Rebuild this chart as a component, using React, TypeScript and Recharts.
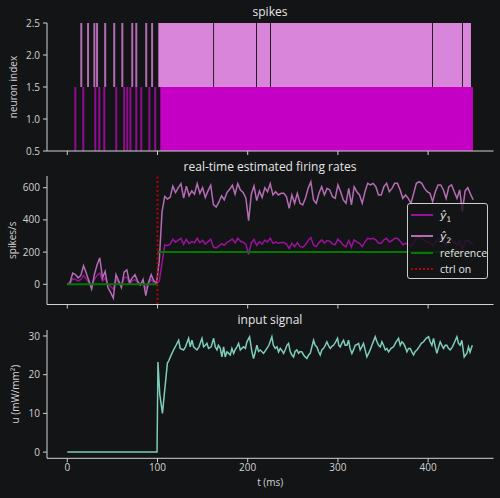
import React from 'react';
import {
  ComposedChart,
  Line,
  Scatter,
  ErrorBar,
  XAxis,
  YAxis,
  ReferenceArea,
  ReferenceLine,
} from 'recharts';

const BG = '#131416';
const AXIS = '#d2d2d2';
const FONT = "'Open Sans', 'Noto Sans', sans-serif";

const X_DOMAIN = [-22.5, 472.5];
const X_TICKS = [0, 100, 200, 300, 400];
const CTRL_ON_T = 100;

// spikes panel
const spikeTimes1 = [8.9, 17.7, 31, 35.5, 41, 54.3, 63, 66.5, 70, 76.5, 82, 91, 97.5];
const spikeTimes2 = [15.5, 23, 30, 33, 42, 52, 61, 72, 76.5, 87.5, 94];
// dense firing after the controller switches on (start, end) in ms
const burst1 = [[103.1, 449.7]];
const burst2 = [
  [100.9, 161.7],
  [162.7, 209.3],
  [210.3, 224.8],
  [225.8, 404.4],
  [405.4, 437.7],
  [438.7, 447.5],
];

// firing-rate panel
const rateT = [
  0, 3, 6, 9, 12, 15, 18, 21, 24, 27, 30, 33, 36, 39, 42, 45, 48, 51, 54, 57, 60, 63, 66, 69, 72, 75, 78, 81, 84, 87, 90, 93, 96, 99,
  102, 105, 108, 111, 114, 117, 120, 123, 126, 129, 132, 135, 138, 141, 144, 147, 150, 153, 156, 159, 162, 165, 168, 171, 174, 177,
  180, 183, 186, 189, 192, 195, 198, 201, 204, 207, 210, 213, 216, 219, 222, 225, 228, 231, 234, 237, 240, 243, 246, 249, 252, 255,
  258, 261, 264, 267, 270, 273, 276, 279, 282, 285, 288, 291, 294, 297, 300, 303, 306, 309, 312, 315, 318, 321, 324, 327, 330, 333,
  336, 339, 342, 345, 348, 351, 354, 357, 360, 363, 366, 369, 372, 375, 378, 381, 384, 387, 390, 393, 396, 399, 402, 405, 408, 411,
  414, 417, 420, 423, 426, 429, 432, 435, 438, 441, 444, 447, 450,
];
const rateY1 = [
  0, 5, 35, 30, 20, 30, 55, 35, 10, -10, 30, 55, 70, 20, 40, 0, -15, -30, 30, 10, -5, 40, 45, 5, 20, 30, 10, 0, 15, -25, 5, 30, 10, 5,
  20, 130, 245, 240, 249, 279, 261, 274, 285, 247, 280, 253, 265, 258, 286, 259, 273, 249, 265, 280, 231, 226, 237, 253, 243, 261,
  270, 281, 257, 286, 267, 261, 247, 185, 257, 278, 241, 265, 249, 274, 263, 286, 255, 263, 255, 259, 259, 250, 223, 255, 234, 259,
  234, 230, 246, 272, 290, 243, 234, 259, 276, 255, 272, 268, 250, 246, 281, 263, 243, 234, 272, 230, 276, 263, 255, 234, 263, 286,
  281, 286, 276, 255, 255, 276, 286, 263, 272, 286, 286, 268, 246, 255, 246, 234, 259, 286, 290, 286, 272, 263, 259, 238, 263, 281,
  281, 268, 246, 276, 281, 263, 246, 268, 215, 265, 274, 257, 243,
];
const rateY2 = [
  0, 10, 70, 60, 40, 55, 115, 70, 20, -30, 60, 120, 165, 40, 80, -20, -50, -85, 60, 20, -20, 75, 90, 10, 40, 60, 20, -5, 30, -70, 10, 60, 20, 10,
  150, 450, 545, 530, 540, 610, 570, 600, 625, 535, 610, 550, 580, 560, 625, 565, 600, 540, 580, 615, 495, 480, 510, 550, 525, 570,
  590, 615, 560, 625, 585, 570, 535, 395, 560, 610, 520, 580, 540, 600, 575, 625, 555, 575, 555, 565, 565, 544, 472, 555, 503, 565,
  503, 493, 534, 596, 637, 524, 503, 565, 606, 555, 596, 586, 544, 534, 617, 575, 524, 503, 596, 493, 606, 575, 555, 503, 575, 627,
  617, 627, 606, 555, 555, 606, 627, 575, 596, 627, 627, 586, 534, 555, 534, 503, 565, 627, 637, 627, 596, 575, 565, 513, 575, 617,
  617, 586, 534, 606, 617, 575, 534, 586, 451, 580, 600, 560, 525,
];
// reference target, broken (null) where it jumps at ctrl on
const refT = [0, 100, 100, 100, 450];
const refV = [0, 0, null, 200, 200];

// input-signal panel
const inputT = [
  0, 99.5, 100.5, 102.5, 105.5, 108, 111, 112.5, 115, 118, 121, 123.4, 125.2, 128.9, 131, 134.5, 136.3, 138.2, 140, 143.7, 146,
  149.3, 151.1, 153, 154.8, 156.6, 159.5, 162.2, 164, 165.9, 167.5, 169.6, 171.4, 173.3, 175.1, 177, 179, 180.7, 182.5, 184.4, 186,
  188.1, 189.9, 191.8, 193.5, 195.5, 197.5, 199.1, 202.1, 204.7, 206.5, 208.5, 210.2, 212, 213.9, 217.6, 221.3, 223.5, 226.8, 228.5,
  230.5, 232.5, 234.2, 236.1, 238, 239.8, 241.5, 243.5, 245.3, 247.2, 249, 250.9, 252.5, 254.5, 256.4, 258, 260.1, 262, 263.8, 265.6,
  267.5, 269.3, 273, 274.8, 276.7, 278.5, 280.4, 282.2, 284.1, 286, 287.8, 289.5, 291.5, 293.5, 295.2, 297.5, 299.6, 301, 302.6,
  304.5, 306.3, 308, 310, 311.8, 313.5, 315.5, 317.3, 319.2, 321, 322.9, 324.7, 326.5, 328.4, 330.2, 332.1, 334, 335.8, 338.5, 341.4,
  343.3, 345.1, 347, 348.8, 350.6, 352.5, 354.3, 356.2, 359, 361.7, 364.5, 367.2, 369.1, 371, 372.8, 374.6, 376.5, 378.3, 380.2, 382,
  383.9, 385.7, 387.6, 390, 392.5, 395, 397.8, 400.5, 402.3, 404.2, 406, 408, 409.7, 411.5, 413.4, 415.2, 417.1, 419, 420.8, 422.6,
  424.5, 427, 429.5, 431.9, 433.7, 435.6, 437.4, 440, 441.5, 443, 444.8, 446.5, 449,
];
const inputU = [
  0, 0, 23.3, 15, 10, 16, 23, 23.6, 25, 26.5, 27.8, 28.9, 26.8, 26.4, 27.2, 29.4, 27.2, 28.9, 27.2, 26.4, 27.2,
  29.4, 27.2, 27.6, 28.1, 26.8, 27.2, 29.4, 27.2, 26.4, 27.6, 26.8, 24.6, 27.2, 24.6, 25.9, 25.5, 25.1, 26.8, 25.5, 26.4,
  27.2, 28.1, 26.4, 26.8, 27.2, 26.8, 28.5, 29.8, 25.9, 24.2, 26, 27.6, 26, 26.4, 25.5, 26.8, 27.6, 29.8, 27.6,
  26.8, 27.2, 25.9, 26.8, 26.2, 25.5, 26.4, 27.6, 28.1, 25.9, 25.1, 24.6, 26, 26.4, 25.5, 26, 25.9, 25.1, 24.6, 24.2,
  25.1, 25.5, 28.9, 27.6, 27.2, 26, 25.1, 26.4, 26.8, 27.6, 28.5, 27.6, 26.8, 27.4, 27.6, 28.5, 29.4, 27.6, 27.2,
  28.2, 28.9, 27.6, 27.6, 28.9, 26.8, 25.5, 26.4, 27.6, 27.8, 28.1, 26.4, 27.2, 28.1, 26.4, 24.6, 25.5, 26.4, 28.1, 29.8,
  28.5, 27.6, 27.2, 28.5, 27.6, 26.4, 26.8, 25.9, 26.8, 27.2, 28.5, 29.4, 27.6, 28.5, 28.1, 27.2, 25.9, 26.8, 26.8, 25.9,
  25.1, 26, 26.4, 27.2, 28.1, 28.5, 29.4, 29.8, 28.5, 27.6, 29.4, 27.2, 25.5, 27, 28.5, 27.6, 26.8, 27.6, 27.6, 26.8,
  26.4, 27.2, 28.5, 29.8, 28.1, 27.6, 28.9, 24.6, 25.1, 25.5, 27.2, 25.8, 27.6,
];

const COLORS = {
  spike1: '#920c92',
  spike2: '#b26cb2',
  burst1: '#c300c3',
  burst2: '#d985d9',
  y1: '#9c119c',
  y2: '#b46cb4',
  ref: '#007a00',
  ctrl: '#b80000',
  input: '#7ecdbb',
};

const spikeData1 = spikeTimes1.map((t) => ({ t, n: 1, err: 0.5 }));
const spikeData2 = spikeTimes2.map((t) => ({ t, n: 2, err: 0.5 }));
const rateData = rateT.map((t, i) => ({ t, y1: rateY1[i], y2: rateY2[i] }));
const refData = refT.map((t, i) => ({ t, v: refV[i] }));
const inputData = inputT.map((t, i) => ({ t, u: inputU[i] }));

const tickStyle = { fill: AXIS, fontSize: 10 };
const noDot = () => <g />;
const noTickLabel = () => <g />;

function Title({ text, top }: { text: string; top: number }) {
  return (
    <div
      style={{
        position: 'absolute',
        left: 47,
        width: 446,
        top,
        textAlign: 'center',
        color: '#e6e6e6',
        fontSize: 12,
        lineHeight: '14px',
      }}
    >
      {text}
    </div>
  );
}

function LegendRow({ top, color, dotted, children }: any) {
  return (
    <div style={{ position: 'absolute', left: 0, top, height: 16, width: 81 }}>
      <div
        style={{
          position: 'absolute',
          left: 3,
          top: 7,
          width: 22,
          borderTop: `2px ${dotted ? 'dotted' : 'solid'} ${color}`,
        }}
      />
      <div style={{ position: 'absolute', left: 32, top: 0, lineHeight: '16px', fontSize: 10.5, color: '#e6e6e6' }}>
        {children}
      </div>
    </div>
  );
}

function YHat({ i }: { i: number }) {
  return (
    <span style={{ fontFamily: "'DejaVu Sans', sans-serif", fontSize: 11 }}>
      <i>ŷ</i>
      <sub style={{ fontSize: 7.5 }}>{i}</sub>
    </span>
  );
}

export default function App() {
  return (
    <div
      style={{
        position: 'absolute',
        left: 0,
        top: 0,
        width: 500,
        height: 498,
        background: BG,
        fontFamily: FONT,
        overflow: 'hidden',
      }}
    >
      <Title text="spikes" top={5} />
      <Title text="real-time estimated firing rates" top={160} />
      <Title text="input signal" top={313} />

      <div style={{ position: 'absolute', left: 0, top: 0 }}>
        <ComposedChart width={500} height={170} margin={{ top: 23, right: 6.5, bottom: 9, left: 0 }}>
          <XAxis
            type="number"
            dataKey="t"
            domain={X_DOMAIN}
            ticks={X_TICKS}
            allowDataOverflow
            height={10}
            tick={noTickLabel}
            tickSize={4}
            axisLine={{ stroke: AXIS }}
            tickLine={{ stroke: AXIS }}
          />
          <YAxis
            type="number"
            dataKey="n"
            domain={[0.5, 2.5]}
            ticks={[0.5, 1, 1.5, 2, 2.5]}
            allowDataOverflow
            width={47}
            tickSize={4}
            tickMargin={3}
            tick={tickStyle}
            tickFormatter={(v: number) => v.toFixed(1)}
            axisLine={{ stroke: AXIS }}
            tickLine={{ stroke: AXIS }}
            label={{
              value: 'neuron index',
              angle: -90,
              position: 'insideLeft',
              offset: 13.5,
              fill: AXIS,
              fontSize: 10,
              style: { textAnchor: 'middle' },
            }}
          />
          {burst1.map(([a, b], i) => (
            <ReferenceArea key={'b1' + i} x1={a} x2={b} y1={0.5} y2={1.5} fill={COLORS.burst1} fillOpacity={1} stroke="none" />
          ))}
          {burst2.map(([a, b], i) => (
            <ReferenceArea key={'b2' + i} x1={a} x2={b} y1={1.5} y2={2.5} fill={COLORS.burst2} fillOpacity={1} stroke="none" />
          ))}
          <Scatter data={spikeData1} shape={noDot} isAnimationActive={false}>
            <ErrorBar dataKey="err" direction="y" width={0} stroke={COLORS.spike1} strokeWidth={2} isAnimationActive={false} />
          </Scatter>
          <Scatter data={spikeData2} shape={noDot} isAnimationActive={false}>
            <ErrorBar dataKey="err" direction="y" width={0} stroke={COLORS.spike2} strokeWidth={2} isAnimationActive={false} />
          </Scatter>
        </ComposedChart>
      </div>

      <div style={{ position: 'absolute', left: 0, top: 160 }}>
        <ComposedChart width={500} height={165} data={rateData} margin={{ top: 16, right: 6.5, bottom: 10.5, left: 0 }}>
          <XAxis
            type="number"
            dataKey="t"
            domain={X_DOMAIN}
            ticks={X_TICKS}
            allowDataOverflow
            height={10}
            tick={noTickLabel}
            tickSize={4}
            axisLine={{ stroke: AXIS }}
            tickLine={{ stroke: AXIS }}
          />
          <YAxis
            type="number"
            domain={[-125.5, 672.7]}
            ticks={[0, 200, 400, 600]}
            allowDataOverflow
            width={47}
            tickSize={4}
            tickMargin={3}
            tick={tickStyle}
            axisLine={{ stroke: AXIS }}
            tickLine={{ stroke: AXIS }}
            label={{
              value: 'spikes/s',
              angle: -90,
              position: 'insideLeft',
              offset: 12.5,
              fill: AXIS,
              fontSize: 10,
              style: { textAnchor: 'middle' },
            }}
          />
          <Line dataKey="y1" stroke={COLORS.y1} strokeWidth={1.5} dot={false} isAnimationActive={false} type="linear" />
          <Line dataKey="y2" stroke={COLORS.y2} strokeWidth={1.5} dot={false} isAnimationActive={false} type="linear" />
          <Line
            data={refData}
            dataKey="v"
            stroke={COLORS.ref}
            strokeWidth={2}
            dot={false}
            connectNulls={false}
            isAnimationActive={false}
            type="linear"
          />
          <ReferenceLine x={CTRL_ON_T} stroke={COLORS.ctrl} strokeWidth={2} strokeDasharray="2 2.5" />
        </ComposedChart>
      </div>

      <div style={{ position: 'absolute', left: 0, top: 310 }}>
        <ComposedChart width={500} height={188} data={inputData} margin={{ top: 20, right: 6.5, bottom: 9.7, left: 0 }}>
          <XAxis
            type="number"
            dataKey="t"
            domain={X_DOMAIN}
            ticks={X_TICKS}
            allowDataOverflow
            height={30}
            tickSize={4}
            tickMargin={2}
            tick={tickStyle}
            axisLine={{ stroke: AXIS }}
            tickLine={{ stroke: AXIS }}
            label={{ value: 't (ms)', position: 'insideBottom', offset: 2, fill: AXIS, fontSize: 10 }}
          />
          <YAxis
            type="number"
            domain={[-1.6, 31.55]}
            ticks={[0, 10, 20, 30]}
            allowDataOverflow
            width={47}
            tickSize={4}
            tickMargin={3}
            tick={tickStyle}
            axisLine={{ stroke: AXIS }}
            tickLine={{ stroke: AXIS }}
            label={{
              value: 'u (mW/mm²)',
              angle: -90,
              position: 'insideLeft',
              offset: 15,
              fill: AXIS,
              fontSize: 10,
              style: { textAnchor: 'middle' },
            }}
          />
          <Line dataKey="u" stroke={COLORS.input} strokeWidth={1.5} dot={false} isAnimationActive={false} type="linear" />
        </ComposedChart>
      </div>

      <div
        style={{
          position: 'absolute',
          left: 407,
          top: 203,
          width: 81,
          height: 76,
          boxSizing: 'border-box',
          border: '1px solid #cdcdcd',
          borderRadius: 3,
          background: 'rgba(19,20,22,0.8)',
        }}
      >
        <LegendRow top={3} color={COLORS.y1}>
          <YHat i={1} />
        </LegendRow>
        <LegendRow top={24} color={COLORS.y2}>
          <YHat i={2} />
        </LegendRow>
        <LegendRow top={41} color={COLORS.ref}>
          reference
        </LegendRow>
        <LegendRow top={57} color={COLORS.ctrl} dotted>
          ctrl on
        </LegendRow>
      </div>
    </div>
  );
}
